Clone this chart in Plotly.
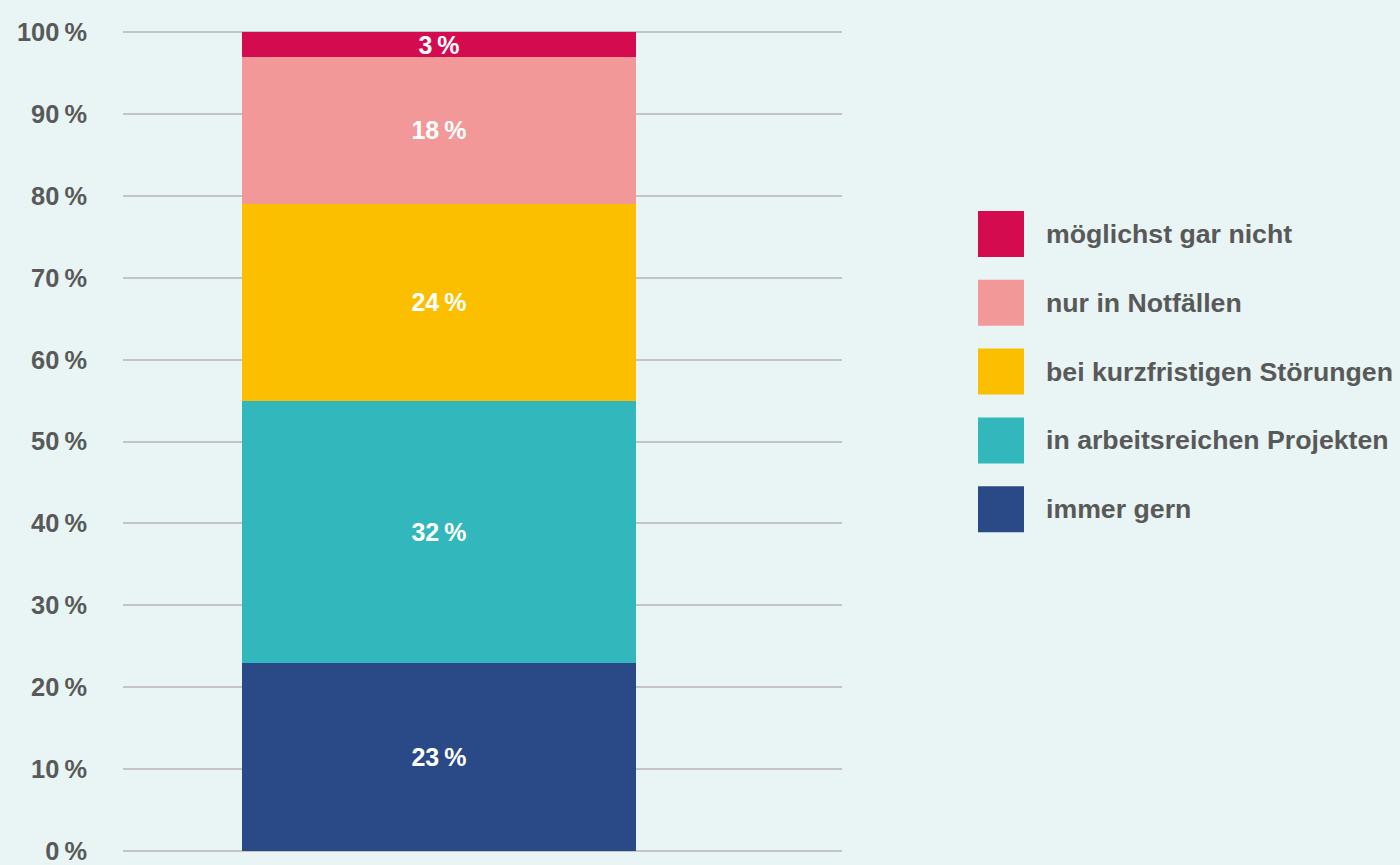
import plotly.graph_objects as go

categories = ["Antwort"]
series_names = ["immer gern", "in arbeitsreichen Projekten", "bei kurzfristigen Störungen",
                "nur in Notfällen", "möglichst gar nicht"]
series_values = [23, 32, 24, 18, 3]
series_colors = ["#2A4A87", "#31B7BC", "#FBBF00", "#F39898", "#D50B50"]
tick_values = [0, 10, 20, 30, 40, 50, 60, 70, 80, 90, 100]
tick_labels = [f"{v}\u2009%" for v in tick_values]

FONT = "Liberation Sans, Arial, sans-serif"
GRAY = "#595959"

fig = go.Figure()
for name, val, col in zip(series_names, series_values, series_colors):
    fig.add_trace(go.Bar(
        x=[0], y=[val], name=name, width=1,
        marker=dict(color=col, line=dict(width=0)),
        text=[f"{val}\u2009%"], textposition="inside", insidetextanchor="middle",
        constraintext="none",
        textfont=dict(family=FONT, size=25, color="white", weight="bold"),
        showlegend=False, cliponaxis=False,
    ))

# manual legend (top item = last series)
legend_top = 211
row_gap = 68.8
for i, (name, col) in enumerate(zip(reversed(series_names), reversed(series_colors))):
    y0 = legend_top + i * row_gap
    fig.add_shape(type="rect", xref="paper", yref="paper",
                  x0=(978 - 123) / 719, x1=(1024 - 123) / 719,
                  y0=1 - (y0 + 46 - 31) / 821, y1=1 - (y0 - 31) / 821,
                  fillcolor=col, line=dict(width=0))
    fig.add_annotation(xref="paper", yref="paper", x=(1046 - 123) / 719,
                       y=1 - (y0 + 23 - 31) / 821, text=name, showarrow=False,
                       xanchor="left", yanchor="middle", xshift=-2,
                       font=dict(family=FONT, size=26.7, color=GRAY, weight="bold"))

fig.update_layout(
    barmode="stack",
    width=1400, height=865,
    margin=dict(l=123, r=558, t=31, b=13, autoexpand=False),
    paper_bgcolor="#E8F5F4", plot_bgcolor="#E8F5F4",
    xaxis=dict(range=[-0.802, 1.023], showticklabels=False, showgrid=False,
               zeroline=False, showline=False, fixedrange=True, automargin=False),
    yaxis=dict(range=[-0.15, 100.15], tickvals=tick_values, ticktext=tick_labels,
               showgrid=True, gridcolor="#C4C4C4", gridwidth=1.5, zeroline=False,
               showline=False, ticks="", ticklabelstandoff=35, automargin=False,
               tickfont=dict(family=FONT, size=25.4, color=GRAY, weight="bold")),
    font=dict(family=FONT),
)

fig.write_html("out.html", config={"displayModeBar": False},
               post_script="document.body.style.margin='0';document.body.style.background='#E8F5F4';")
